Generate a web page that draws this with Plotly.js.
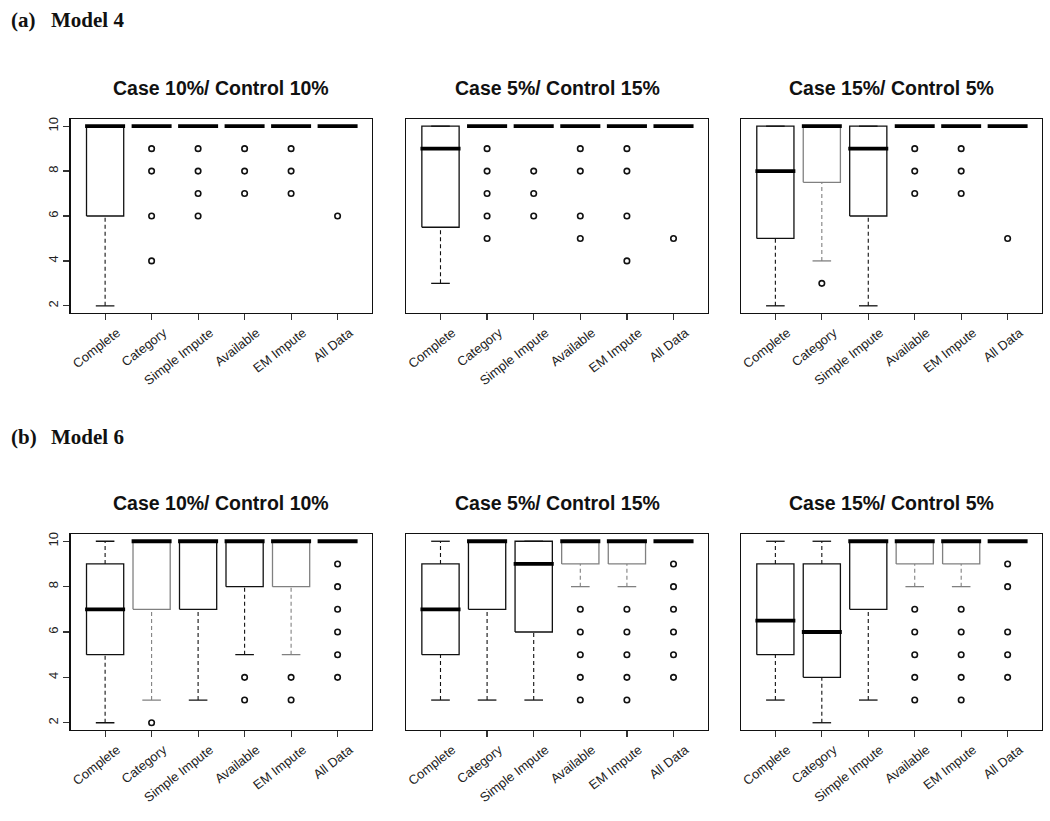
<!DOCTYPE html>
<html>
<head>
<meta charset="utf-8">
<script src="https://cdn.plot.ly/plotly-3.0.1.min.js"></script>
<style>html,body{margin:0;padding:0;background:#fff;}#chart{width:1050px;height:821px;}</style>
</head>
<body>
<div id="chart"></div>
<script>
const categories = ["Complete", "Category", "Simple Impute", "Available", "EM Impute", "All Data"];
const panelTitles = ["Case 10%/ Control 10%", "Case 5%/ Control 15%", "Case 15%/ Control 5%",
                     "Case 10%/ Control 10%", "Case 5%/ Control 15%", "Case 15%/ Control 5%"];
const rowLabels = ["(a)", "(b)"];
const rowModels = ["Model 4", "Model 6"];
const yTicks = [2, 4, 6, 8, 10];

// Model 4, Case 10% / Control 10%
const a1Low  = [2, 10, 10, 10, 10, 10];
const a1Q1   = [6, 10, 10, 10, 10, 10];
const a1Med  = [10, 10, 10, 10, 10, 10];
const a1Q3   = [10, 10, 10, 10, 10, 10];
const a1High = [10, 10, 10, 10, 10, 10];
const a1Out  = [[], [9, 8, 6, 4], [9, 8, 7, 6], [9, 8, 7], [9, 8, 7], [6]];

// Model 4, Case 5% / Control 15%
const a2Low  = [3, 10, 10, 10, 10, 10];
const a2Q1   = [5.5, 10, 10, 10, 10, 10];
const a2Med  = [9, 10, 10, 10, 10, 10];
const a2Q3   = [10, 10, 10, 10, 10, 10];
const a2High = [10, 10, 10, 10, 10, 10];
const a2Out  = [[], [9, 8, 7, 6, 5], [8, 7, 6], [9, 8, 6, 5], [9, 8, 6, 4], [5]];

// Model 4, Case 15% / Control 5%
const a3Low  = [2, 4, 2, 10, 10, 10];
const a3Q1   = [5, 7.5, 6, 10, 10, 10];
const a3Med  = [8, 10, 9, 10, 10, 10];
const a3Q3   = [10, 10, 10, 10, 10, 10];
const a3High = [10, 10, 10, 10, 10, 10];
const a3Out  = [[], [3], [], [9, 8, 7], [9, 8, 7], [5]];

// Model 6, Case 10% / Control 10%
const b1Low  = [2, 3, 3, 5, 5, 10];
const b1Q1   = [5, 7, 7, 8, 8, 10];
const b1Med  = [7, 10, 10, 10, 10, 10];
const b1Q3   = [9, 10, 10, 10, 10, 10];
const b1High = [10, 10, 10, 10, 10, 10];
const b1Out  = [[], [2], [], [4, 3], [4, 3], [9, 8, 7, 6, 5, 4]];

// Model 6, Case 5% / Control 15%
const b2Low  = [3, 3, 3, 8, 8, 10];
const b2Q1   = [5, 7, 6, 9, 9, 10];
const b2Med  = [7, 10, 9, 10, 10, 10];
const b2Q3   = [9, 10, 10, 10, 10, 10];
const b2High = [10, 10, 10, 10, 10, 10];
const b2Out  = [[], [], [], [7, 6, 5, 4, 3], [7, 6, 5, 4, 3], [9, 8, 7, 6, 5, 4]];

// Model 6, Case 15% / Control 5%
const b3Low  = [3, 2, 3, 8, 8, 10];
const b3Q1   = [5, 4, 7, 9, 9, 10];
const b3Med  = [6.5, 6, 10, 10, 10, 10];
const b3Q3   = [9, 9, 10, 10, 10, 10];
const b3High = [10, 10, 10, 10, 10, 10];
const b3Out  = [[], [], [], [7, 6, 5, 4, 3], [7, 6, 5, 4, 3], [9, 8, 6, 5, 4]];

const panels = [
  [a1Low, a1Q1, a1Med, a1Q3, a1High, a1Out],
  [a2Low, a2Q1, a2Med, a2Q3, a2High, a2Out],
  [a3Low, a3Q1, a3Med, a3Q3, a3High, a3Out],
  [b1Low, b1Q1, b1Med, b1Q3, b1High, b1Out],
  [b2Low, b2Q1, b2Med, b2Q3, b2High, b2Out],
  [b3Low, b3Q1, b3Med, b3Q3, b3High, b3Out]
];

// style only: boxes drawn with a grey outline in the reference (panel index -> box indices)
const greyBoxes = {2: [1], 3: [1, 4], 4: [3, 4], 5: [3, 4]};

const W = 1050, H = 821;
const colPx = [[70.7, 372], [406, 708], [741, 1042]];
const rowPx = [[119, 313], [534, 730]];
const titleY = [88, 503];
const rowLabelY = [20, 437];

const traces = [];
const FONT = 'Liberation Sans, Arial, sans-serif';
const layout = {
  width: W, height: H,
  margin: {l: 0, r: 0, t: 0, b: 0},
  paper_bgcolor: '#fff', plot_bgcolor: '#fff',
  showlegend: false,
  annotations: [],
  font: {family: FONT, color: '#222'}
};

const BW = 0.4, MW = 0.43, CW = 0.2;
const BLACK = '#111', GREY = '#808080';

panels.forEach((p, k) => {
  const [lo, q1, med, q3, hi, out] = p;
  const r = Math.floor(k / 3), c = k % 3;
  const ax = k + 1;
  const xref = 'x' + (ax === 1 ? '' : ax), yref = 'y' + (ax === 1 ? '' : ax);
  const xname = 'xaxis' + (ax === 1 ? '' : ax), yname = 'yaxis' + (ax === 1 ? '' : ax);
  const greys = greyBoxes[k] || [];

  const groups = {};
  [BLACK, GREY].forEach(col => groups[col] = {wx: [], wy: [], cx: [], cy: [], bx: [], by: []});
  const mx = [], my = [], ox = [], oy = [];
  categories.forEach((cat, i) => {
    const x = i + 1;
    const g = groups[greys.includes(i) ? GREY : BLACK];
    g.wx.push(x, x, null, x, x, null); g.wy.push(lo[i], q1[i], null, q3[i], hi[i], null);
    g.cx.push(x - CW, x + CW, null, x - CW, x + CW, null); g.cy.push(lo[i], lo[i], null, hi[i], hi[i], null);
    g.bx.push(x - BW, x + BW, x + BW, x - BW, x - BW, null); g.by.push(q1[i], q1[i], q3[i], q3[i], q1[i], null);
    mx.push(x - MW, x + MW, null); my.push(med[i], med[i], null);
    out[i].forEach(v => { ox.push(x); oy.push(v); });
  });
  const common = {xaxis: xref, yaxis: yref, hoverinfo: 'skip', type: 'scatter'};
  [BLACK, GREY].forEach(col => {
    const g = groups[col];
    if (!g.wx.length) return;
    traces.push(Object.assign({x: g.wx, y: g.wy, mode: 'lines', line: {color: col, width: 1.1, dash: '4px,3px'}}, common));
    traces.push(Object.assign({x: g.cx, y: g.cy, mode: 'lines', line: {color: col, width: 1.3}}, common));
    traces.push(Object.assign({x: g.bx, y: g.by, mode: 'lines', line: {color: col, width: 1.3}}, common));
  });
  traces.push(Object.assign({x: mx, y: my, mode: 'lines', line: {color: '#000', width: 3.8}}, common));
  traces.push(Object.assign({x: ox, y: oy, mode: 'markers',
    marker: {symbol: 'circle-open', size: 5.5, color: BLACK, line: {width: 1.6, color: BLACK}}}, common));

  layout[xname] = {
    domain: [colPx[c][0] / W, colPx[c][1] / W],
    anchor: yref,
    range: [0.26, 6.74],
    tickmode: 'array', tickvals: categories.map((_, i) => i + 1), ticktext: categories,
    tickangle: -38, ticks: 'outside', ticklen: 6, tickcolor: '#333', tickwidth: 1.2,
    ticklabelshift: 12,
    tickfont: {size: 13, color: '#222', family: FONT},
    showline: true, mirror: true, linecolor: BLACK, linewidth: 1.3,
    showgrid: false, zeroline: false, fixedrange: true
  };
  layout[yname] = {
    domain: [1 - rowPx[r][1] / H, 1 - rowPx[r][0] / H],
    anchor: xref,
    range: [1.68, 10.32],
    tickmode: 'array', tickvals: yTicks, ticktext: yTicks.map(String),
    tickangle: -90,
    ticks: c === 0 ? 'outside' : '', ticklen: 6, tickcolor: '#333', tickwidth: 1.2,
    showticklabels: c === 0,
    tickfont: {size: 13, color: '#222', family: FONT},
    showline: true, mirror: true, linecolor: BLACK, linewidth: 1.3,
    showgrid: false, zeroline: false, fixedrange: true
  };

  layout.annotations.push({
    text: '<b>' + panelTitles[k] + '</b>', xref: 'paper', yref: 'paper',
    x: (colPx[c][0] + colPx[c][1]) / 2 / W, y: 1 - titleY[r] / H,
    xanchor: 'center', yanchor: 'middle', showarrow: false,
    font: {size: 19.5, color: '#111', family: FONT}
  });
});

rowLabels.forEach((lab, r) => {
  layout.annotations.push({
    text: '<b>' + lab + '</b>', xref: 'paper', yref: 'paper',
    x: 9 / W, y: 1 - rowLabelY[r] / H, xanchor: 'left', yanchor: 'middle', showarrow: false,
    font: {size: 21, color: '#111', family: 'Liberation Serif, Times New Roman, serif'}
  });
  layout.annotations.push({
    text: '<b>' + rowModels[r] + '</b>', xref: 'paper', yref: 'paper',
    x: 49 / W, y: 1 - rowLabelY[r] / H, xanchor: 'left', yanchor: 'middle', showarrow: false,
    font: {size: 21, color: '#111', family: 'Liberation Serif, Times New Roman, serif'}
  });
});

Plotly.newPlot('chart', traces, layout, {displayModeBar: false, staticPlot: true});
</script>
</body>
</html>
